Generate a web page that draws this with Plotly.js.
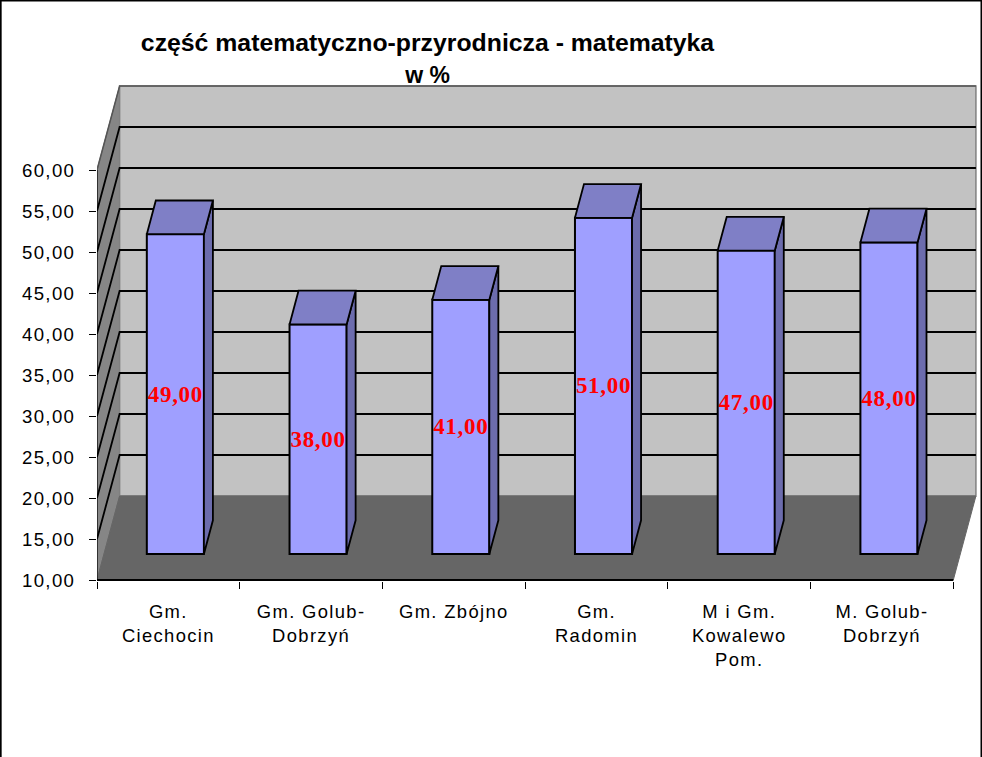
<!DOCTYPE html>
<html>
<head>
<meta charset="utf-8">
<script src="https://cdn.plot.ly/plotly-3.0.1.min.js"></script>
<style>
html,body{margin:0;padding:0;background:#fff;}
#chart{width:982px;height:757px;}
.xtick text,.ytick text{letter-spacing:1.35px;}
.bartext text,text.bartext{letter-spacing:0.7px;}
</style>
</head>
<body>
<div id="chart"></div>
<script>
const categories = ['Gm.<br>Ciechocin','Gm. Golub-<br>Dobrzyń','Gm. Zbójno','Gm.<br>Radomin','M i Gm.<br>Kowalewo<br>Pom.','M. Golub-<br>Dobrzyń'];
const values = [49, 38, 41, 51, 47, 48];
const yTicks = [10,15,20,25,30,35,40,45,50,55,60];
const chartTitle = 'część matematyczno-przyrodnicza - matematyka<br><span style="font-size:23px">w %</span>';

// pixel layout of the plot box and the oblique projection
const W = 982, H = 757;
const box = {l:97.3, r:977, t:84, b:581};
const slotPx = 142.67, unitPx = 8.2;            // px per category, px per value unit
const wallDx = 22.6/slotPx, wallDy = 84/unitPx; // depth of the whole floor
const barDx = 9/slotPx, barDy = 33.7/unitPx;    // depth of one bar
const shiftX = 7/slotPx, shiftY = 26/unitPx;    // bars stand part-way into the floor
const barW = 0.4;
const x0 = -0.5, x1 = categories.length - 0.5;
const xRange = [x0, x0 + (box.r-box.l)/slotPx];
const yRange = [10 - (box.b-580)/unitPx, 10 + (580-box.t)/unitPx];
const yLo = yTicks[0], yHi = yTicks[yTicks.length-1];
const centers = categories.map((c,i)=>i);
const fmt = v => v.toFixed(2).replace('.',',');

function poly(x,y,fill,line,lw){
  return {type:'scatter',mode:'lines',x:x,y:y,fill:'toself',fillcolor:fill,
    line:{color:line,width:lw},hoverinfo:'skip',showlegend:false,cliponaxis:false};
}
function path(x,y,color,lw){
  return {type:'scatter',mode:'lines',x:x,y:y,line:{color:color,width:lw},
    hoverinfo:'skip',showlegend:false,cliponaxis:false};
}

const traces = [];
// side wall, back wall, floor
traces.push(poly([x0,x0,x0+wallDx,x0+wallDx,x0],[yLo,yHi,yHi+wallDy,yLo+wallDy,yLo],'#868686','#707070',1));
traces.push(poly([x0+wallDx,x1+wallDx,x1+wallDx,x0+wallDx,x0+wallDx],[yLo+wallDy,yLo+wallDy,yHi+wallDy,yHi+wallDy,yLo+wallDy],'#c2c2c2','#808080',1.5));
// grid lines wrap the side wall and the back wall
yTicks.slice(1,-1).forEach(v=>{
  traces.push(path([x0,x0+wallDx,x1+wallDx],[v,v+wallDy,v+wallDy],'#000',1.8));
});
traces.push(path([x0,x0+wallDx,x1+wallDx],[yHi,yHi+wallDy,yHi+wallDy],'#555',1.5));
traces.push(poly([x0,x1,x1+wallDx,x0+wallDx,x0],[yLo,yLo,yLo+wallDy,yLo+wallDy,yLo],'#666666','#666666',1));
// axis lines
traces.push(path([x0,x0],[yLo,yHi],'#000',1.2));
traces.push(path([x0,x1],[yLo,yLo],'#000',2));

// bars in a plane shifted into the depth of the floor
traces.push({type:'bar',x:centers,y:values.map(v=>v-yLo),base:yLo,width:barW,xaxis:'x2',yaxis:'y2',
  marker:{color:'#9f9fff',line:{color:'#000',width:2}},
  text:values.map(fmt),textposition:'inside',insidetextanchor:'middle',textangle:0,constraintext:'none',
  textfont:{family:'"Liberation Serif",serif',size:23,color:'#ff0000',weight:'bold'},
  hoverinfo:'skip',showlegend:false,cliponaxis:false});
const topX=[],topY=[],sideX=[],sideY=[];
values.forEach((v,i)=>{
  const a=i-barW/2,b=i+barW/2;
  topX.push(a,b,b+barDx,a+barDx,a,null); topY.push(v,v,v+barDy,v+barDy,v,null);
  sideX.push(b,b+barDx,b+barDx,b,b,null); sideY.push(yLo,yLo+barDy,v+barDy,v,yLo,null);
});
[poly(sideX,sideY,'#6c6cad','#000',1.8),poly(topX,topY,'#7f7fc6','#000',1.8)].forEach(t=>{
  t.xaxis='x2';t.yaxis='y2';traces.push(t);
});

// black page frame: left, top, right
const px = p => (p-box.l)/(box.r-box.l);
const py = p => (box.b-p)/(box.b-box.t);
const frame = [[0,0,2,H],[0,0,W,1.5],[W-1.5,0,W,H]].map(r=>({type:'rect',xref:'paper',yref:'paper',
  x0:px(r[0]),x1:px(r[2]),y0:py(r[1]),y1:py(r[3]),fillcolor:'#000',line:{width:0},layer:'above'}));

const layout = {
  width:W,height:H,autosize:false,paper_bgcolor:'#fff',plot_bgcolor:'rgba(0,0,0,0)',
  margin:{l:box.l,r:W-box.r,t:box.t,b:H-box.b,pad:0},
  separators:', ',showlegend:false,barmode:'overlay',
  title:{text:chartTitle,x:427.5/W,xanchor:'center',y:1-51/H,yanchor:'middle',
    font:{family:'"Liberation Sans",Arial,sans-serif',size:24.8,color:'#000',weight:'bold'}},
  xaxis:{range:xRange,tickmode:'array',tickvals:centers,ticktext:categories,ticks:'',showgrid:false,zeroline:false,showline:false,
    tickangle:0,ticklabelstandoff:18,fixedrange:true,
    tickfont:{family:'"Liberation Sans",Arial,sans-serif',size:18.4,color:'#000'},
    minor:{tickmode:'array',tickvals:categories.map((c,i)=>i-0.5).concat([x1]),ticks:'outside',ticklen:7,tickwidth:1,tickcolor:'#000',showgrid:false}},
  yaxis:{range:yRange,tickmode:'array',tickvals:yTicks,tickformat:'.2f',ticks:'outside',ticklen:7,tickwidth:1,tickcolor:'#000',
    showgrid:false,zeroline:false,showline:false,ticklabelstandoff:10,ticklabelshift:2.5,fixedrange:true,
    tickfont:{family:'"Liberation Sans",Arial,sans-serif',size:18.6,color:'#000'}},
  xaxis2:{overlaying:'x',anchor:'y2',range:[xRange[0]-shiftX,xRange[1]-shiftX],visible:false,fixedrange:true},
  yaxis2:{overlaying:'y',anchor:'x2',range:[yRange[0]-shiftY,yRange[1]-shiftY],visible:false,fixedrange:true},
  shapes:frame
};
Plotly.newPlot('chart',traces,layout,{displayModeBar:false,staticPlot:true});
</script>
</body>
</html>
